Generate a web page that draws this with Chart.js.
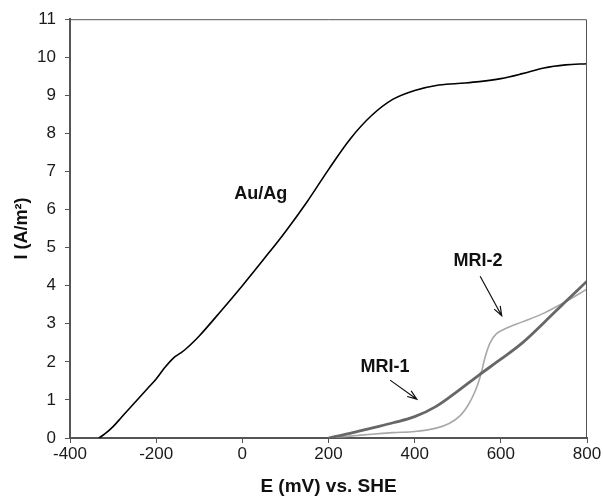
<!DOCTYPE html>
<html>
<head>
<meta charset="utf-8">
<script src="https://cdn.jsdelivr.net/npm/chart.js@4"></script>
<style>
  html, body { margin: 0; padding: 0; background: #fff; }
  #wrap { width: 603px; height: 498px; }
</style>
</head>
<body>
<div id="wrap"><canvas id="chart"></canvas></div>
<script>
// values: E in mV vs. SHE, I in A/m2
const auAgE = [-333, -320, -300, -280, -260, -240, -220, -200, -180, -160, -145, -130, -100, -50, 0, 50, 100, 150, 200, 250, 300, 350, 400, 450, 500, 550, 600, 650, 700, 750, 800];
const auAgI = [0, 0.1, 0.3, 0.55, 0.8, 1.05, 1.3, 1.55, 1.85, 2.1, 2.22, 2.35, 2.68, 3.33, 4.0, 4.7, 5.42, 6.2, 7.05, 7.85, 8.47, 8.9, 9.13, 9.26, 9.31, 9.36, 9.44, 9.57, 9.72, 9.8, 9.83];

const mri1E = [200, 250, 300, 350, 400, 450, 500, 550, 600, 650, 700, 750, 800];
const mri1I = [0, 0.12, 0.26, 0.4, 0.56, 0.83, 1.23, 1.66, 2.07, 2.5, 3.03, 3.58, 4.12];

const mri2E = [200, 250, 300, 350, 400, 450, 480, 505, 525, 540, 552, 563, 575, 590, 610, 650, 700, 750, 800];
const mri2I = [0, 0.05, 0.1, 0.14, 0.17, 0.26, 0.38, 0.58, 0.88, 1.22, 1.6, 2.1, 2.5, 2.74, 2.87, 3.05, 3.28, 3.58, 3.91];

const labelTexts = ["Au/Ag", "MRI-2", "MRI-1"];
const labelE = [43, 547, 331];
const labelI = [6.42, 4.64, 1.86];

// arrows: from (E0, I0) to (E1, I1)
const arrowE0 = [552, 343];
const arrowI0 = [4.25, 1.52];
const arrowE1 = [602, 405];
const arrowI1 = [3.21, 1.02];

const toPoints = (xs, ys) => xs.map((x, i) => ({ x: x, y: ys[i] }));

const FONT = "'Liberation Sans', Arial, sans-serif";

const annotate = {
    id: "annotate",
    afterDatasetsDraw(chart) {
        const ctx = chart.ctx;
        const xs = chart.scales.x;
        const ys = chart.scales.y;
        const area = chart.chartArea;
        ctx.save();
        // frame on top and right
        ctx.strokeStyle = "#555";
        ctx.lineWidth = 1;
        ctx.beginPath();
        ctx.moveTo(area.left, area.top + 0.5);
        ctx.lineTo(area.right - 0.5, area.top + 0.5);
        ctx.lineTo(area.right - 0.5, area.bottom);
        ctx.stroke();

        ctx.fillStyle = "#111";
        ctx.font = "bold 18px " + FONT;
        ctx.textAlign = "center";
        ctx.textBaseline = "middle";
        labelTexts.forEach((t, i) => {
            ctx.fillText(t, xs.getPixelForValue(labelE[i]), ys.getPixelForValue(labelI[i]));
        });

        ctx.strokeStyle = "#111";
        ctx.lineWidth = 1.2;
        arrowE0.forEach((e, i) => {
            const x0 = xs.getPixelForValue(e);
            const y0 = ys.getPixelForValue(arrowI0[i]);
            const x1 = xs.getPixelForValue(arrowE1[i]);
            const y1 = ys.getPixelForValue(arrowI1[i]);
            const a = Math.atan2(y1 - y0, x1 - x0);
            ctx.beginPath();
            ctx.moveTo(x0, y0);
            ctx.lineTo(x1, y1);
            ctx.moveTo(x1 - 10 * Math.cos(a - 0.35), y1 - 10 * Math.sin(a - 0.35));
            ctx.lineTo(x1, y1);
            ctx.lineTo(x1 - 10 * Math.cos(a + 0.35), y1 - 10 * Math.sin(a + 0.35));
            ctx.stroke();
        });
        ctx.restore();
    }
};

new Chart(document.getElementById("chart"), {
    type: "scatter",
    data: {
        datasets: [
            {
                label: "MRI-1",
                data: toPoints(mri1E, mri1I),
                borderColor: "#676767",
                borderWidth: 2.8,
                order: 1
            },
            {
                label: "MRI-2",
                data: toPoints(mri2E, mri2I),
                borderColor: "#a8a8a8",
                borderWidth: 1.6,
                order: 2
            },
            {
                label: "Au/Ag",
                data: toPoints(auAgE, auAgI),
                borderColor: "#000",
                borderWidth: 1.6,
                order: 0
            }
        ]
    },
    options: {
        responsive: true,
        maintainAspectRatio: false,
        animation: false,
        showLine: true,
        elements: {
            point: { radius: 0, hoverRadius: 0 },
            line: { tension: 0.35, fill: false }
        },
        layout: { padding: { top: 16, right: 16, left: 0, bottom: 0 } },
        plugins: {
            legend: { display: false },
            tooltip: { enabled: false }
        },
        scales: {
            x: {
                type: "linear",
                min: -400,
                max: 800,
                afterFit: (s) => { s.height = 60; },
                ticks: {
                    stepSize: 200,
                    color: "#1a1a1a",
                    font: { family: FONT, size: 17 },
                    padding: 1
                },
                grid: { drawOnChartArea: false, drawTicks: true, tickLength: 5, color: "#555", lineWidth: 1 },
                border: { display: true, color: "#555", width: 2 },
                title: {
                    display: true,
                    text: "E (mV) vs. SHE",
                    color: "#111",
                    font: { family: FONT, size: 19, weight: "bold" },
                    padding: { top: 4, bottom: 0 }
                }
            },
            y: {
                type: "linear",
                min: 0,
                max: 11,
                afterFit: (s) => { s.width = 70; },
                ticks: {
                    stepSize: 1,
                    color: "#1a1a1a",
                    font: { family: FONT, size: 17 },
                    padding: 9
                },
                grid: { drawOnChartArea: false, drawTicks: true, tickLength: 5, color: "#555", lineWidth: 1 },
                border: { display: true, color: "#555", width: 2 },
                title: {
                    display: true,
                    text: "I (A/m²)",
                    color: "#111",
                    font: { family: FONT, size: 18, weight: "bold" },
                    padding: { top: 11, bottom: 0 }
                }
            }
        }
    },
    plugins: [annotate]
});
</script>
</body>
</html>
